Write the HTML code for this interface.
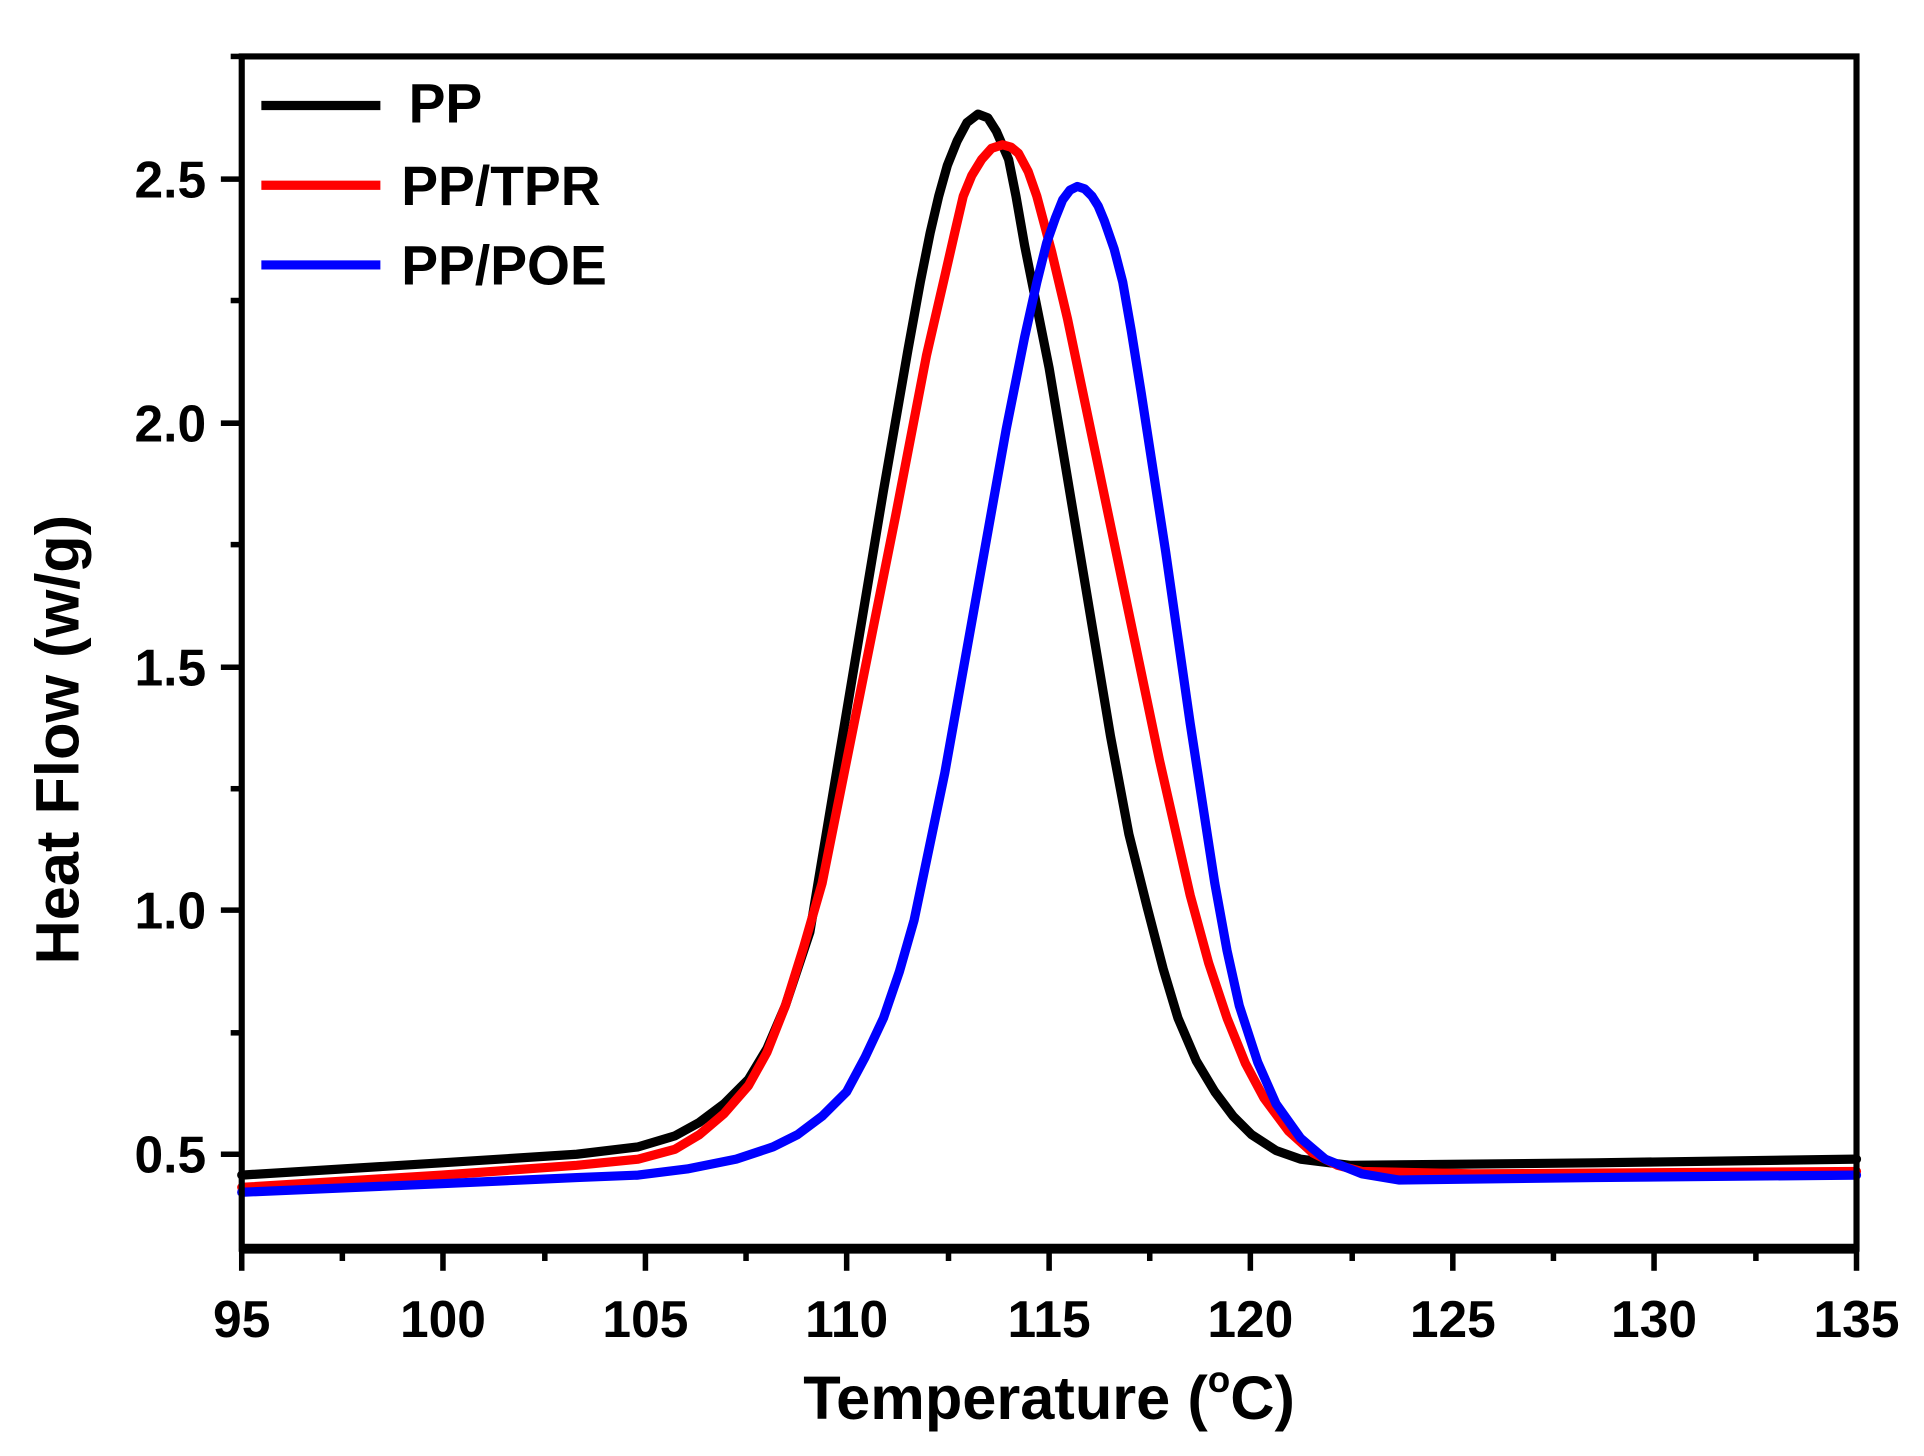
<!DOCTYPE html>
<html><head><meta charset="utf-8"><style>
html,body{margin:0;padding:0;background:#fff;}
svg{display:block;}
text{font-family:"Liberation Sans",Arial,sans-serif;font-weight:bold;fill:#000;}
</style></head><body>
<svg width="1924" height="1456" viewBox="0 0 1568 1187" preserveAspectRatio="none" xmlns="http://www.w3.org/2000/svg">
<rect width="1568" height="1187" fill="#fff"/>
<g fill="none" stroke-width="7.5" stroke-linejoin="round" stroke-linecap="round">
<polyline stroke="#000" points="197,958 360,948 470,941 520,935 550,926 570,915 590,900 610,880 625,855 640,820 660,760 690,580 720,400 740,285 750,230 758,190 765,160 772,135 780,115 788,100 797,93 805,96 812,107 822,130 828,160 835,200 845,250 855,300 880,450 905,600 920,680 935,740 948,790 960,830 975,865 990,890 1005,910 1020,925 1040,938 1060,945 1100,950 1300,948 1513,945"/>
<polyline stroke="#f00" points="197,968 360,958 470,950 520,945 550,937 570,925 590,908 610,885 625,858 640,820 655,772 670,720 700,570 730,420 755,290 770,225 778,190 785,160 792,143 800,130 808,121 817,118 824,120 830,125 838,140 845,160 857,205 870,260 895,380 920,500 945,620 970,730 985,785 1000,830 1015,867 1030,895 1050,922 1070,940 1090,950 1110,955 1200,957 1513,955"/>
<polyline stroke="#00f" points="197,972 360,965 470,960 520,958 560,953 600,945 630,935 650,925 670,910 690,890 705,862 720,830 733,792 745,750 770,630 795,490 820,350 835,275 845,230 853,198 860,178 866,163 872,155 878,152 884,154 890,160 895,168 900,180 908,203 915,230 922,270 930,320 950,450 970,590 990,720 1000,775 1010,820 1025,866 1040,900 1060,928 1080,945 1110,957 1140,962 1300,960 1513,958"/>
</g>
<g stroke="#000" fill="none">
<rect x="197" y="46" width="1316" height="972" stroke-width="5"/>
<line x1="195" y1="1018" x2="1515" y2="1018" stroke-width="8"/>
</g>
<g stroke="#000" stroke-width="4.5">
<line x1="197" y1="1018" x2="197" y2="1036"/><line x1="279" y1="1018" x2="279" y2="1028"/>
<line x1="361" y1="1018" x2="361" y2="1036"/><line x1="444" y1="1018" x2="444" y2="1028"/>
<line x1="526" y1="1018" x2="526" y2="1036"/><line x1="608" y1="1018" x2="608" y2="1028"/>
<line x1="690" y1="1018" x2="690" y2="1036"/><line x1="773" y1="1018" x2="773" y2="1028"/>
<line x1="855" y1="1018" x2="855" y2="1036"/><line x1="937" y1="1018" x2="937" y2="1028"/>
<line x1="1019" y1="1018" x2="1019" y2="1036"/><line x1="1102" y1="1018" x2="1102" y2="1028"/>
<line x1="1184" y1="1018" x2="1184" y2="1036"/><line x1="1266" y1="1018" x2="1266" y2="1028"/>
<line x1="1348" y1="1018" x2="1348" y2="1036"/><line x1="1431" y1="1018" x2="1431" y2="1028"/>
<line x1="1513" y1="1018" x2="1513" y2="1036"/>
<line x1="180" y1="941" x2="197" y2="941"/><line x1="188" y1="842" x2="197" y2="842"/>
<line x1="180" y1="742" x2="197" y2="742"/><line x1="188" y1="643" x2="197" y2="643"/>
<line x1="180" y1="544" x2="197" y2="544"/><line x1="188" y1="444" x2="197" y2="444"/>
<line x1="180" y1="345" x2="197" y2="345"/><line x1="188" y1="245" x2="197" y2="245"/>
<line x1="180" y1="146" x2="197" y2="146"/><line x1="188" y1="46" x2="197" y2="46"/>
</g>
<g font-size="42" text-anchor="end">
<text x="168" y="956">0.5</text><text x="168" y="757">1.0</text>
<text x="168" y="559">1.5</text><text x="168" y="360">2.0</text><text x="168" y="161">2.5</text>
</g>
<g font-size="42" text-anchor="middle">
<text x="197" y="1090">95</text><text x="361" y="1090">100</text><text x="526" y="1090">105</text>
<text x="690" y="1090">110</text><text x="855" y="1090">115</text><text x="1019" y="1090">120</text>
<text x="1184" y="1090">125</text><text x="1348" y="1090">130</text><text x="1513" y="1090">135</text>
</g>
<text x="855" y="1157" font-size="50" text-anchor="middle">Temperature (<tspan font-size="30" dy="-22">o</tspan><tspan dy="22">C)</tspan></text>
<text transform="translate(64,603) rotate(-90)" font-size="50" text-anchor="middle">Heat Flow (w/g)</text>
<g stroke-width="7.5">
<line x1="213" y1="86" x2="310" y2="86" stroke="#000"/>
<line x1="213" y1="151" x2="310" y2="151" stroke="#f00"/>
<line x1="213" y1="216" x2="310" y2="216" stroke="#00f"/>
</g>
<g font-size="45">
<text x="333" y="100">PP</text>
<text x="327" y="167">PP/TPR</text>
<text x="327" y="232">PP/POE</text>
</g>
</svg>
</body></html>
